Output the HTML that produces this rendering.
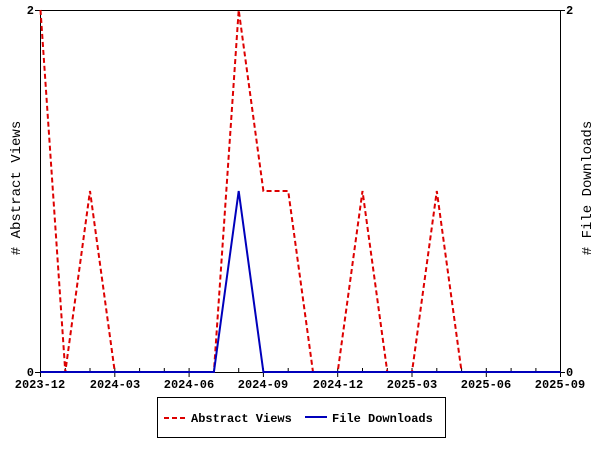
<!DOCTYPE html>
<html><head><style>body{margin:0;background:#fff}</style></head><body>
<svg width="600" height="450" xmlns="http://www.w3.org/2000/svg" font-family="Liberation Mono, DejaVu Sans Mono, monospace" font-size="12" font-weight="bold">
<rect width="600" height="450" fill="#fff"/>
<g stroke="#000" stroke-width="1" fill="none">
<line x1="40.5" y1="10" x2="40.5" y2="372"/>
<line x1="560.5" y1="10" x2="560.5" y2="372"/>
<line x1="40" y1="10.5" x2="560" y2="10.5"/>
<line x1="40" y1="372.5" x2="560" y2="372.5"/>
<line x1="35" y1="10.5" x2="40" y2="10.5"/><line x1="35" y1="372.5" x2="40" y2="372.5"/>
<line x1="560" y1="10.5" x2="565" y2="10.5"/><line x1="560" y1="372.5" x2="565" y2="372.5"/>
<path d="M40.5 368v9M65.3 368v4M90 368v4M114.8 368v9M139.6 368v4M164.3 368v4M189.1 368v9M213.9 368v4M238.7 368v4M263.4 368v9M288.2 368v4M313 368v4M337.7 368v9M362.5 368v4M387.3 368v4M412 368v9M436.8 368v4M461.6 368v4M486.3 368v9M511.1 368v4M535.9 368v4M560.5 368v9"/>
</g>
<g fill="#000">
<text x="34" y="14" text-anchor="end">2</text>
<text x="34" y="376" text-anchor="end">0</text>
<text x="566" y="14">2</text>
<text x="566" y="376">0</text>
<g text-anchor="middle">
<text x="40" y="388">2023-12</text><text x="115" y="388">2024-03</text><text x="189" y="388">2024-06</text><text x="263" y="388">2024-09</text><text x="338" y="388">2024-12</text><text x="412" y="388">2025-03</text><text x="486" y="388">2025-06</text><text x="560" y="388">2025-09</text>
</g>
<text transform="translate(20,188) rotate(-90)" text-anchor="middle" font-size="14" font-weight="normal"># Abstract Views</text>
<text transform="translate(591,188) rotate(-90)" text-anchor="middle" font-size="14" font-weight="normal"># File Downloads</text>
</g>
<polyline fill="none" stroke="#dd0000" stroke-width="2" stroke-dasharray="5,3" points="40.5,10 65.3,372 90,191 114.8,372 139.6,372 164.3,372 189.1,372 213.9,372 238.7,10 263.4,191 288.2,191 313,372 337.7,372 362.5,191 387.3,372 412,372 436.8,191 461.6,372 486.3,372 511.1,372 535.9,372 560.5,372"/>
<polyline fill="none" stroke="#0000bb" stroke-width="2" points="40.5,372 213.9,372 238.7,191 263.4,372 560.5,372"/>
<rect x="157.5" y="397.5" width="288" height="40" fill="none" stroke="#000"/>
<line x1="164" y1="418" x2="186" y2="418" stroke="#dd0000" stroke-width="2" stroke-dasharray="5,3"/>
<text x="191" y="422" font-size="12">Abstract Views</text>
<line x1="305" y1="417" x2="327" y2="417" stroke="#0000bb" stroke-width="2"/>
<text x="332" y="422" font-size="12">File Downloads</text>
</svg>
</body></html>
